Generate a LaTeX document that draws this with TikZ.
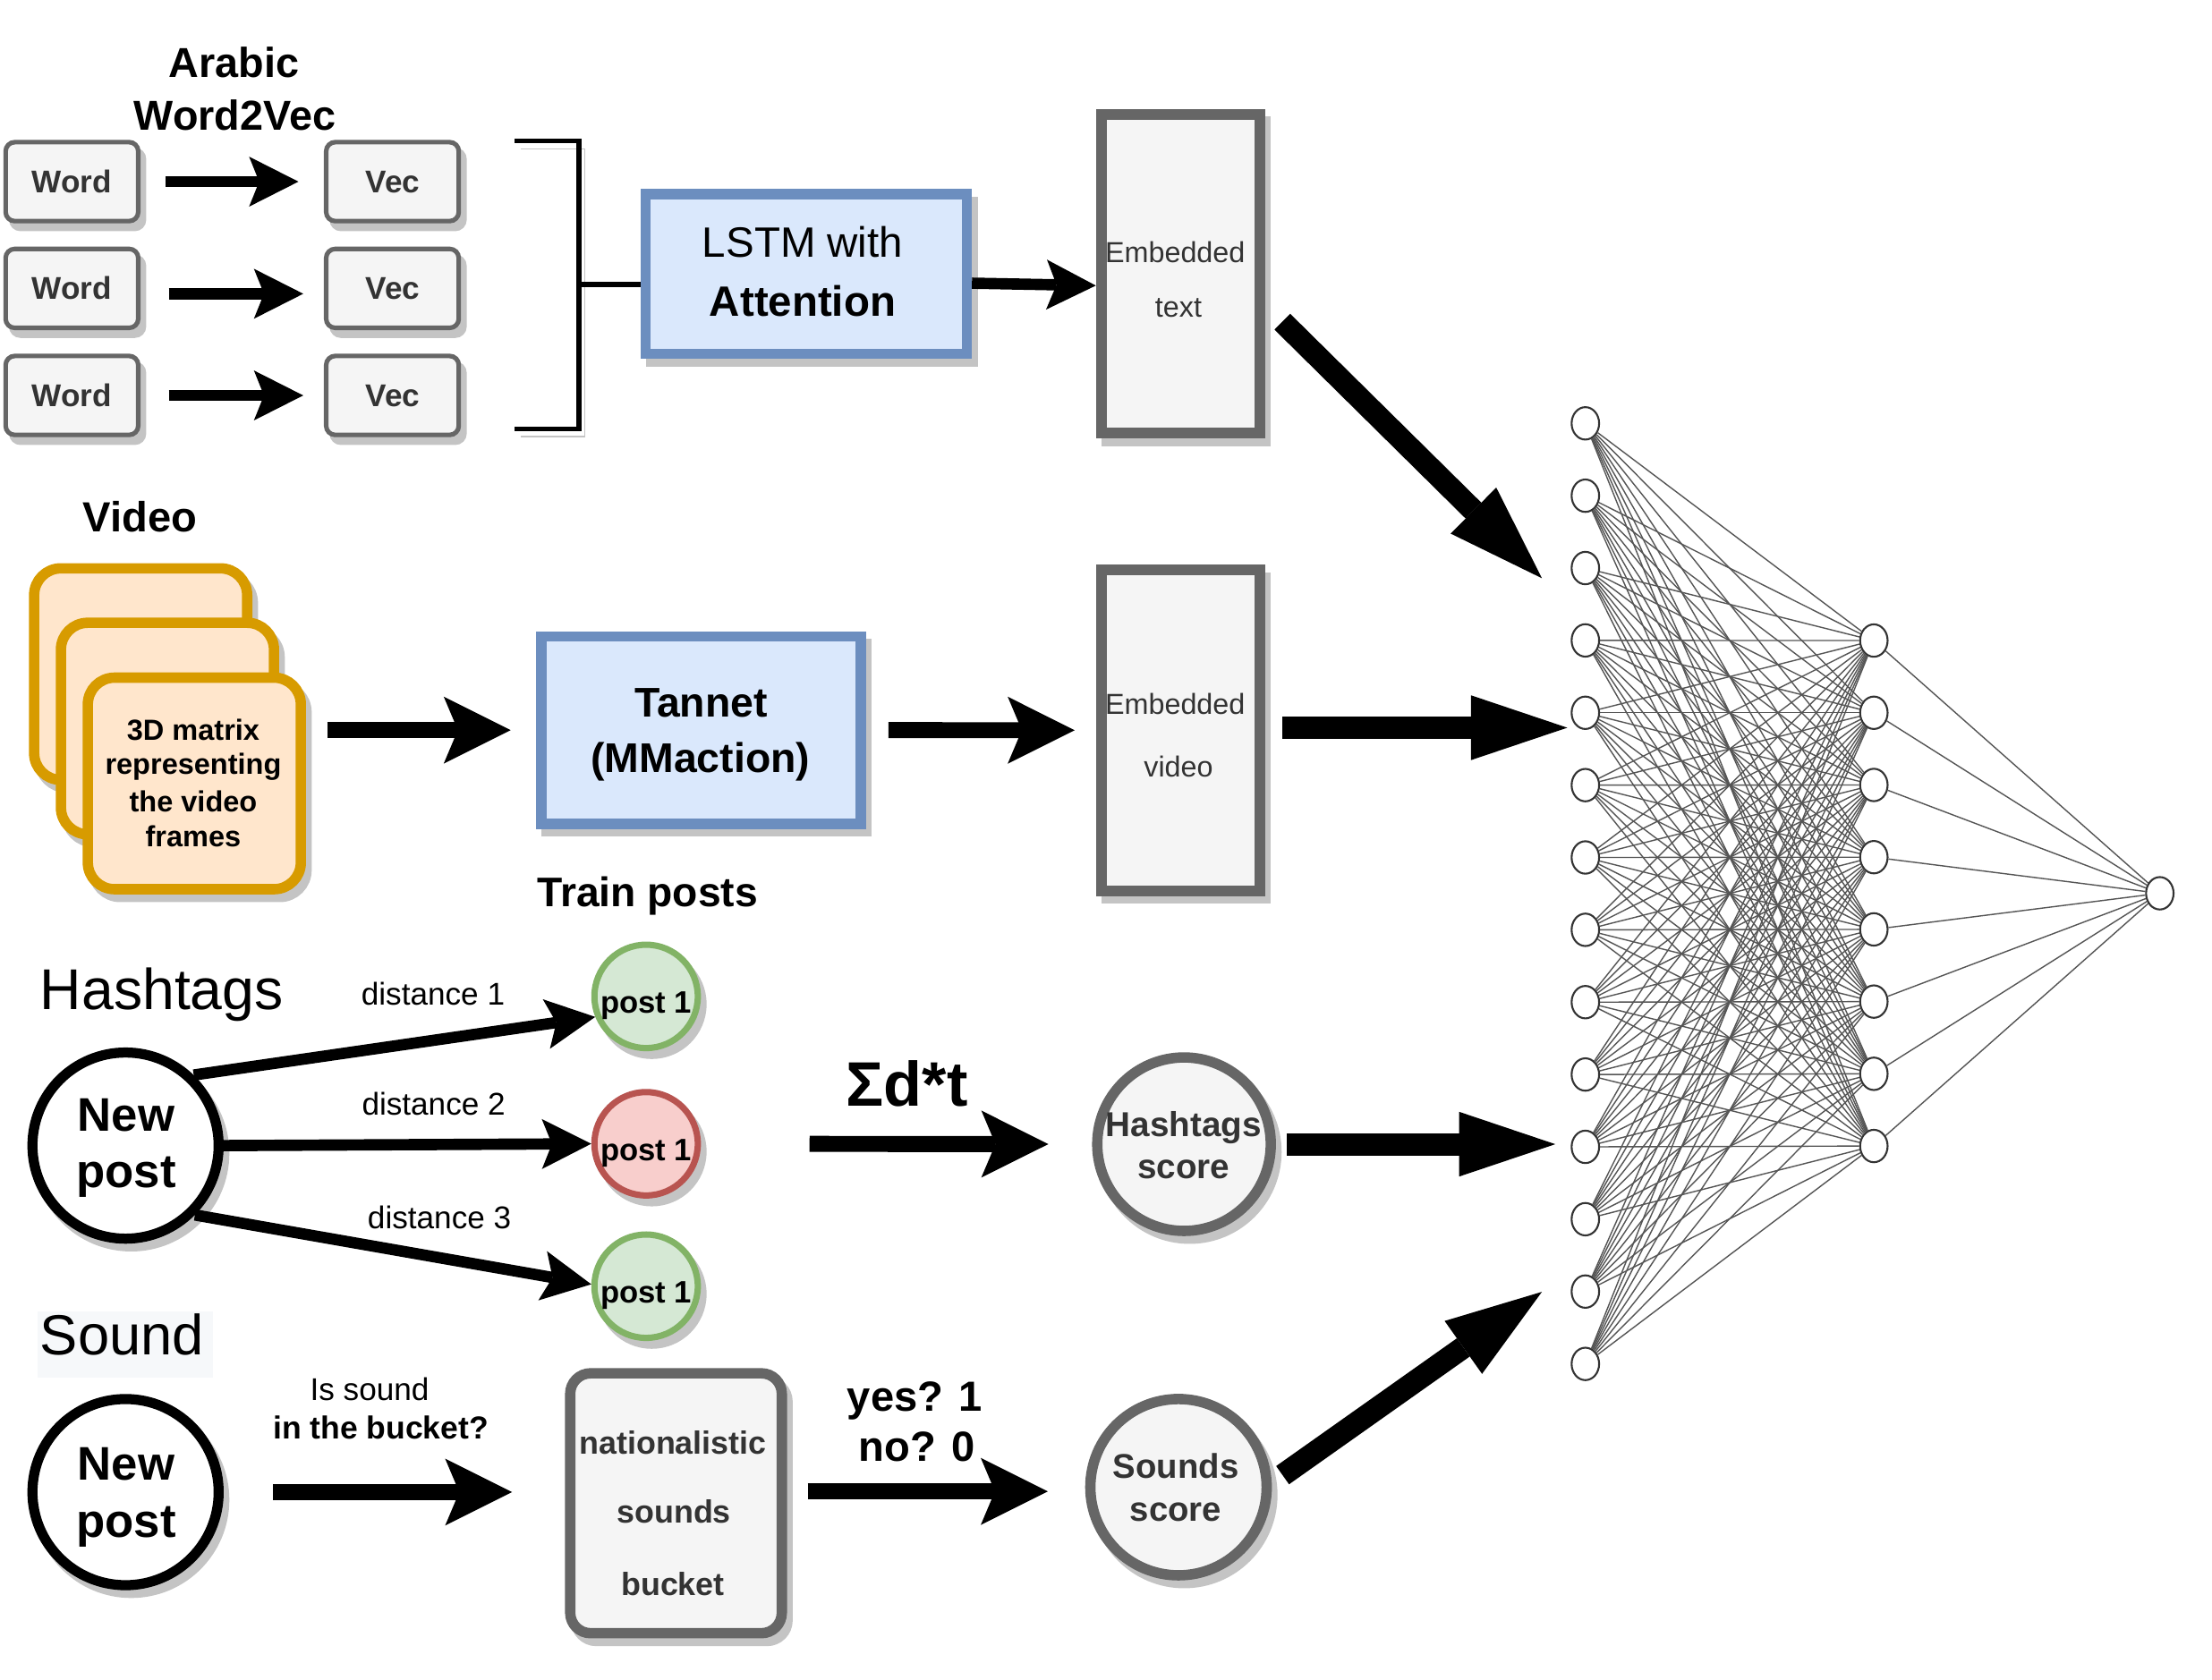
\documentclass[tikz,border=0pt]{standalone}
\usepackage{fontspec}
\setmainfont{Liberation Sans}
\usetikzlibrary{arrows.meta,shapes.geometric}
\newdimen\pxu \pxu=0.015765cm
\definecolor{gline}{HTML}{666666}
\definecolor{gfill}{HTML}{F5F5F5}
\definecolor{gtext}{HTML}{333333}
\definecolor{bfill}{HTML}{DAE8FC}
\definecolor{bline}{HTML}{6C8EBF}
\definecolor{ofill}{HTML}{FFE6CC}
\definecolor{oline}{HTML}{D79B00}
\definecolor{grfill}{HTML}{D5E8D4}
\definecolor{grline}{HTML}{82B366}
\definecolor{rfill}{HTML}{F8CECC}
\definecolor{rline}{HTML}{B85450}
\definecolor{shc}{HTML}{C4C4C4}
\definecolor{nnl}{HTML}{555555}
\definecolor{nnc}{HTML}{333333}
\definecolor{sbg}{HTML}{F6F8FA}
\newcommand\fsz[2]{\fontsize{#1pt}{#2pt}\selectfont}
\tikzset{
  t/.style={inner sep=0pt, outer sep=0pt, anchor=base},
  shd/.style={preaction={draw=shc, fill=shc, transform canvas={xshift=1.8pt, yshift=-2.47pt}}},
  shdl/.style={preaction={draw=shc, transform canvas={xshift=1.8pt, yshift=-2.47pt}}},
  wbox/.style={shd, draw=gline, fill=gfill, line width=1.45pt, rounded corners=2.9pt, minimum width=94\pxu, minimum height=56\pxu, inner sep=0pt},
  bbox/.style={shd, draw=bline, fill=bfill, line width=3.3pt, inner sep=0pt},
  gbox/.style={shd, draw=gline, fill=gfill, line width=3.4pt, inner sep=0pt},
  fbox/.style={shd, draw=oline, fill=ofill, line width=3.3pt, rounded corners=8.5pt, minimum width=151\pxu, minimum height=150\pxu, inner sep=0pt},
  npc/.style={shd, circle, draw=black, fill=white, line width=3.2pt, minimum size=132\pxu, inner sep=0pt},
  pgc/.style={shd, circle, draw=grline, fill=grfill, line width=2pt, minimum size=73.3\pxu, inner sep=0pt},
  prc/.style={shd, circle, draw=rline, fill=rfill, line width=2pt, minimum size=73.3\pxu, inner sep=0pt},
  scc/.style={shd, circle, draw=gline, fill=gfill, line width=3.3pt, minimum size=124\pxu, inner sep=0pt},
  nn/.style={ellipse, draw=nnc, fill=white, line width=0.6pt, minimum width=19.5\pxu, minimum height=23\pxu, inner sep=0pt},
  nnline/.style={draw=nnl, line width=0.4pt},
  sarr/.style={line width=3.6pt, -{Stealth[length=15.7pt, width=15.9pt, inset=3.2pt, line width=0pt]}},
  marr/.style={line width=5.1pt, -{Stealth[length=21.3pt, width=21.3pt, inset=4.5pt, line width=0pt]}},
  barr/.style={line width=7.1pt, -{Triangle[length=30.6pt, width=20.6pt, line width=0pt]}},
  bt/.style={t, font=\fsz{13.3}{16}\bfseries},
}
\begin{document}
\begin{tikzpicture}[x=0.015765cm, y=-0.015765cm]
\useasboundingbox (0,0) rectangle (1568,1191);
\fill[white] (0,0) rectangle (1568,1191);

% ---------- Word2Vec ----------
\node[bt] (tarab) at (166,55.1) {Arabic};
\node[bt] (tw2v) at (166.5,92) {Word2Vec};
\node[wbox] (w1) at (51,128.8) {};
\node[wbox] (w2) at (51,204.5) {};
\node[wbox] (w3) at (51,280.4) {};
\node[wbox] (v1) at (278.2,128.8) {};
\node[wbox] (v2) at (278.2,204.5) {};
\node[wbox] (v3) at (278.2,280.4) {};
\foreach \n/\y in {1/136.4, 2/212.5, 3/288.2} {
  \node[t, text=gtext, font=\fsz{10}{12}\bfseries] (tw\n) at (51,\y) {Word};
  \node[t, text=gtext, font=\fsz{10}{12}\bfseries] (tv\n) at (278.4,\y) {Vec};
}
\draw[sarr, shorten <=18\pxu, shorten >=18\pxu] (w1.east) -- (v1.west);
\draw[sarr, shorten <=20\pxu, shorten >=14.6\pxu] ([yshift=-3.8\pxu]w2.east) -- ([yshift=-3.8\pxu]v2.west);
\draw[sarr, shorten <=20\pxu, shorten >=14.6\pxu] (w3.east) -- (v3.west);

% ---------- bracket + LSTM ----------
\node[bbox, minimum width=227.6\pxu, minimum height=113.2\pxu] (lstm) at (571.5,194.3) {};
\node[t, font=\fsz{13.5}{16}] (tl1) at (569,182.6) {LSTM with};
\node[t, font=\fsz{13.5}{16}\bfseries] (tl2) at (569,224) {Attention};
\draw[line width=1.5pt, shdl] (365,100) -- (410.4,100) -- (410.4,304) -- (365,304);
\coordinate (brk) at (410.4,201.6);
\draw[line width=1.6pt] (brk) -- (brk -| lstm.west);

\node[gbox, minimum width=112.6\pxu, minimum height=226.2\pxu] (et) at (836.9,194.1) {};
\node[t, text=gtext, font=\fsz{9.2}{11}] (te1) at (833,186.2) {Embedded};
\node[t, text=gtext, font=\fsz{9.2}{11}] (te2) at (835.4,224.7) {text};
\draw[sarr] ([yshift=-6.5\pxu]lstm.east) -- ([yshift=-8.4\pxu]et.west);

% ---------- Video ----------
\node[t, font=\fsz{13.4}{16}\bfseries] (tvid) at (99.2,377) {Video};
\node[fbox] (f1) at (99.7,478) {};
\node[fbox] (f2) at (118.7,516.6) {};
\node[fbox] (f3) at (137.75,555.5) {};
\node[t, font=\fsz{9.25}{11}\bfseries] (tf1) at (137,524.8) {3D matrix};
\node[t, font=\fsz{9.25}{11}\bfseries] (tf2) at (137,549.2) {representing};
\node[t, font=\fsz{9.25}{11}\bfseries] (tf3) at (137,575.5) {the video};
\node[t, font=\fsz{9.25}{11}\bfseries] (tf4) at (137,600.3) {frames};

\node[bbox, minimum width=226.4\pxu, minimum height=132.8\pxu] (tn) at (496.9,517.7) {};
\node[t, font=\fsz{13.2}{16}\bfseries] (ttn1) at (497,508.5) {Tannet};
\node[t, font=\fsz{13.2}{16}\bfseries] (ttn2) at (496.5,547.6) {(MMaction)};

\node[gbox, minimum width=112.6\pxu, minimum height=227.5\pxu] (ev) at (836.9,517.8) {};
\node[t, text=gtext, font=\fsz{9.2}{11}] (te3) at (833,506.4) {Embedded};
\node[t, text=gtext, font=\fsz{9.2}{11}] (te4) at (835.4,550.8) {video};

\draw[marr, shorten <=15\pxu, shorten >=18\pxu] (f3.east |- tn.west) -- (tn.west);
\draw[marr, shorten <=16\pxu, shorten >=15\pxu] (tn.east) -- (ev.west);

\node[t, font=\fsz{13.15}{16}\bfseries] (ttrain) at (459,642.6) {Train posts};

% ---------- Hashtags ----------
\node[t, anchor=base west, font=\fsz{18.3}{22}] (thash) at (28.5,716) {Hashtags};
\node[npc] (np1) at (89,812.3) {};
\node[t, font=\fsz{15}{18}\bfseries] (tnp1a) at (89.5,801.8) {New};
\node[t, font=\fsz{15}{18}\bfseries] (tnp1b) at (89.5,842.3) {post};
\node[pgc] (p1) at (458,706.5) {};
\node[prc] (p2) at (458,811) {};
\node[pgc] (p3) at (458,912) {};
\node[t, font=\fsz{9.85}{12}\bfseries] (tp1) at (458,718.5) {post 1};
\node[t, font=\fsz{9.85}{12}\bfseries] (tp2) at (458,823) {post 1};
\node[t, font=\fsz{9.85}{12}\bfseries] (tp3) at (458,924) {post 1};
\node[t, font=\fsz{10}{12}] (td1) at (307,712.8) {distance 1};
\node[t, font=\fsz{10}{12}] (td2) at (307.4,790.5) {distance 2};
\node[t, font=\fsz{10}{12}] (td3) at (311.5,871.4) {distance 3};
\draw[sarr] (np1.46) -- (p1.202);
\draw[sarr] (np1.east) -- (p2.west);
\draw[sarr] (np1.-45) -- (p3.178);

\node[t, font=\fsz{20}{24}\bfseries] (tsum) at (643,784.5) {Σd*t};
\node[scc, minimum size=123\pxu] (hs) at (839.3,811.3) {};
\node[t, text=gtext, font=\fsz{11}{13}\bfseries] (ths1) at (839,805.6) {Hashtags};
\node[t, text=gtext, font=\fsz{11}{13}\bfseries] (ths2) at (839,836) {score};
\draw[marr, shorten <=77\pxu, shorten >=31\pxu] (p2.east) -- (hs.west);

% ---------- Sound ----------
\node[fill=sbg, inner sep=0pt, minimum width=124.5\pxu, minimum height=47\pxu] (sbgbox) at (88.75,953.1) {};
\node[t, anchor=base west, font=\fsz{18}{22}] (tsound) at (28.5,960.4) {Sound};
\node[npc] (np2) at (89,1058) {};
\node[t, font=\fsz{15}{18}\bfseries] (tnp2a) at (89.5,1049.4) {New};
\node[t, font=\fsz{15}{18}\bfseries] (tnp2b) at (89.5,1089.9) {post};
\node[t, font=\fsz{10}{12}] (tis1) at (262,992.7) {Is sound};
\node[t, font=\fsz{10.1}{12}\bfseries] (tis2) at (270,1020.3) {in the bucket?};

\node[gbox, line width=3.3pt, rounded corners=6.5pt, minimum width=150\pxu, minimum height=184.3\pxu] (bk) at (479.2,1065.9) {};
\node[t, text=gtext, font=\fsz{10.2}{12}\bfseries] (tbk1) at (477,1031) {nationalistic};
\node[t, text=gtext, font=\fsz{10.2}{12}\bfseries] (tbk2) at (477.7,1080.2) {sounds};
\node[t, text=gtext, font=\fsz{10.2}{12}\bfseries] (tbk3) at (477,1131.2) {bucket};
\draw[marr, shorten <=35\pxu, shorten >=37.5\pxu] (np2.east) -- (np2.east -| bk.west);

\node[t, font=\fsz{13.4}{16}\bfseries] (tyes) at (648.5,1000.6) {yes? 1};
\node[t, font=\fsz{13.4}{16}\bfseries] (tno) at (650,1036.2) {no? 0};
\node[scc, minimum size=125\pxu] (ss) at (835.4,1054.5) {};
\node[t, text=gtext, font=\fsz{10.9}{13}\bfseries] (tss1) at (833.5,1048) {Sounds};
\node[t, text=gtext, font=\fsz{10.9}{13}\bfseries] (tss2) at (833.5,1078.6) {score};
\draw[marr, shorten <=14.6\pxu, shorten >=26.5\pxu] ([yshift=-3\pxu]ss.west -| bk.east) -- ([yshift=-3\pxu]ss.west);

% ---------- Neural network ----------
\foreach \i in {1,...,14} \node[nn] (in\i) at (1123.8,{300.2+(\i-1)*51.3}) {};
\foreach \j in {1,...,8} \node[nn] (hd\j) at (1328.3,{454.2+(\j-1)*51.2}) {};
\node[nn] (out) at (1531,633.4) {};
\foreach \i in {1,...,14} {\foreach \j in {1,...,8} {\draw[nnline] (in\i) -- (hd\j);}}
\foreach \j in {1,...,8} \draw[nnline] (hd\j) -- (out);

% ---------- big arrows to network ----------
\coordinate (nnt) at (1093,410);
\coordinate (nnv) at (1111,516);
\coordinate (nnh) at (1102.5,811.3);
\coordinate (nns) at (1093,916);
\draw[barr] ([xshift=12\pxu, yshift=-34\pxu]et.east) -- (nnt);
\draw[barr, shorten <=12\pxu] ([yshift=1.8\pxu]ev.east) -- (nnv);
\draw[barr, shorten <=7.5\pxu] (hs.east) -- (nnh);
\draw[barr] ([xshift=7.6\pxu, yshift=8.5\pxu]ss.east) -- (nns);
\end{tikzpicture}
\end{document}
